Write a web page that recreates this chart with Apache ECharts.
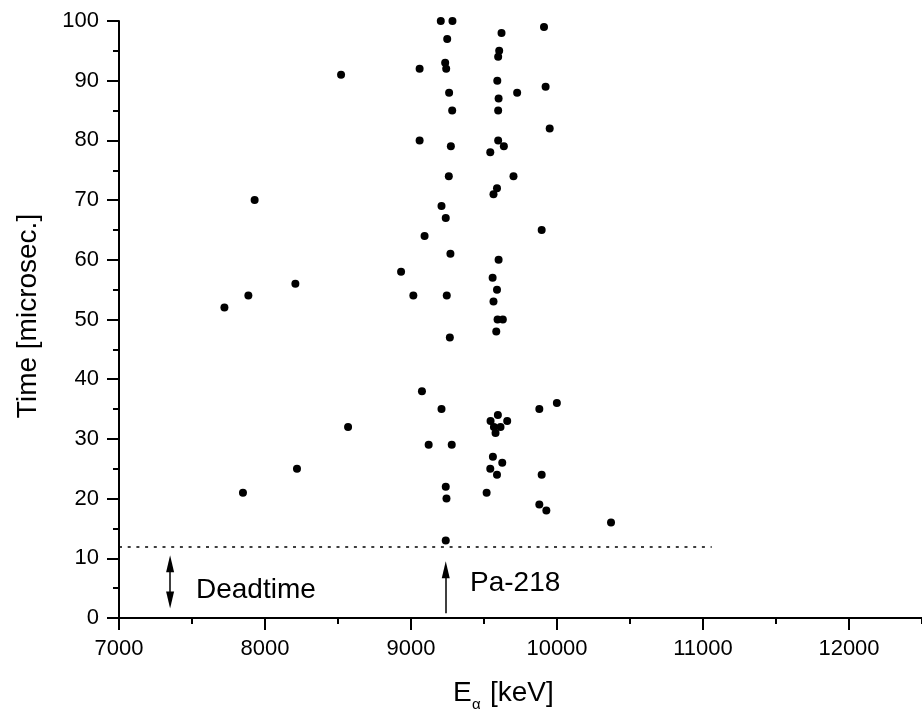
<!DOCTYPE html>
<html>
<head>
<meta charset="utf-8">
<script src="https://cdn.jsdelivr.net/npm/echarts@6/dist/echarts.min.js"></script>
<style>
  html, body { margin: 0; padding: 0; background: #fff; }
  #chart { width: 922px; height: 711px; }
</style>
</head>
<body>
<div id="chart"></div>
<script>
// alpha energy [keV] and decay time [microsec.] of each event
const energyKeV = [
  9204, 9284, 9911, 9620, 9248, 9604, 9597, 9234, 9241, 9059,
  8521, 9591, 9922, 9261, 9727, 9600, 9282, 9597, 9950, 9059,
  9597, 9636, 9273, 9543, 9259, 9702, 9589, 9565, 7929, 9209,
  9238, 9895, 9093, 9270, 9600, 8932, 9559, 8208, 9589, 7886,
  9016, 9245, 9565, 7722, 9593, 9629, 9584, 9266, 9075, 9999,
  9209, 9879, 9595, 9545, 9659, 9568, 9613, 8569, 9579, 9121,
  9279, 9561, 9625, 9543, 8219, 9589, 9895, 9238, 9518, 7849,
  9243, 9879, 9927, 10370, 9238
];
const timeMicrosec = [
  100, 100, 99, 98, 97, 95, 94, 93, 92, 92,
  91, 90, 89, 88, 88, 87, 85, 85, 82, 80,
  80, 79, 79, 78, 74, 74, 72, 71, 70, 69,
  67, 65, 64, 61, 60, 58, 57, 56, 55, 54,
  54, 54, 53, 52, 50, 50, 48, 47, 38, 36,
  35, 35, 34, 33, 33, 32, 32, 32, 31, 29,
  29, 27, 26, 25, 25, 24, 24, 22, 21, 21,
  20, 19, 18, 16, 13
];

// deadtime limit and the Pa-218 line
const deadtimeLimit = 12;
const deadtimeLineEnd = 11060;
const pa218Energy = 9238;
const annotations = [
  [7527, 4.6, 'Deadtime'],
  [9404, 5.8, 'Pa-218']
];

const FONT = "'Liberation Sans', Arial, sans-serif";
const chart = echarts.init(document.getElementById('chart'));

const points = energyKeV.map((e, i) => [e, timeMicrosec[i]]);

const axisLine = { show: true, lineStyle: { color: '#000', width: 2 } };

const option = {
  animation: false,
  grid: { left: 119, top: 21, width: 807, height: 597 },
  xAxis: [{
    type: 'value',
    min: 7000,
    max: 12500,
    interval: 1000,
    axisLine: axisLine,
    axisTick: { show: true, inside: false, length: 12, lineStyle: { color: '#000', width: 2 } },
    axisLabel: { color: '#000', fontSize: 22, fontFamily: FONT, margin: 20, showMaxLabel: false,
      formatter: v => String(v) },
    splitLine: { show: false }
  }, {
    // minor ticks every 500 keV
    type: 'value',
    min: 7000,
    max: 12500,
    interval: 500,
    position: 'bottom',
    axisLine: { show: false },
    axisTick: { show: true, inside: false, length: 6, lineStyle: { color: '#000', width: 2 } },
    axisLabel: { show: false },
    splitLine: { show: false }
  }],
  yAxis: {
    type: 'value',
    min: 0,
    max: 100,
    interval: 10,
    axisLine: axisLine,
    axisTick: { show: true, inside: false, length: 12, lineStyle: { color: '#000', width: 2 } },
    minorTick: { show: true, splitNumber: 2, length: 6, lineStyle: { color: '#000', width: 2 } },
    axisLabel: { color: '#000', fontSize: 22, fontFamily: FONT, margin: 20 },
    splitLine: { show: false }
  },
  graphic: [
    {
      type: 'text', left: 453, top: 679,
      style: { text: 'E', font: '28px ' + FONT, fill: '#000' }
    },
    {
      type: 'text', left: 472, top: 697,
      style: { text: 'α', font: '15px ' + FONT, fill: '#000' }
    },
    {
      type: 'text', left: 490, top: 679,
      style: { text: '[keV]', font: '28px ' + FONT, fill: '#000' }
    },
    {
      type: 'text', x: 28, y: 316, rotation: Math.PI / 2,
      style: { text: 'Time [microsec.]', font: '28px ' + FONT, fill: '#000',
        align: 'center', verticalAlign: 'middle' }
    }
  ],
  series: [
    {
      type: 'scatter',
      data: points,
      symbol: 'circle',
      symbolSize: 8,
      clip: true,
      itemStyle: { color: '#000', opacity: 1 },
      silent: true
    },
    {
      type: 'line',
      data: [],
      silent: true,
      markLine: {
        silent: true,
        symbol: 'none',
        label: { show: false },
        lineStyle: { color: '#000', width: 1.5, type: 'solid', opacity: 1 },
        data: [
          [
            { coord: [7000, deadtimeLimit], symbol: 'none',
              lineStyle: { type: [3, 5.7], width: 1.6, color: '#000' } },
            { coord: [deadtimeLineEnd, deadtimeLimit], symbol: 'none' }
          ],
          [
            { coord: [7350, 3.0], symbol: 'triangle', symbolSize: [8, 17] },
            { coord: [7350, 9.1], symbol: 'triangle', symbolSize: [8, 17] }
          ],
          [
            { coord: [pa218Energy, 0.8], symbol: 'none' },
            { coord: [pa218Energy, 8.1], symbol: 'triangle', symbolSize: [8, 17] }
          ]
        ]
      }
    },
    {
      type: 'scatter',
      data: annotations,
      symbolSize: 0,
      silent: true,
      itemStyle: { opacity: 1 },
      label: {
        show: true,
        position: [0, 0],
        align: 'left',
        verticalAlign: 'middle',
        color: '#000',
        fontSize: 28,
        fontFamily: FONT,
        formatter: p => p.value[2]
      }
    }
  ]
};

chart.setOption(option);
</script>
</body>
</html>
